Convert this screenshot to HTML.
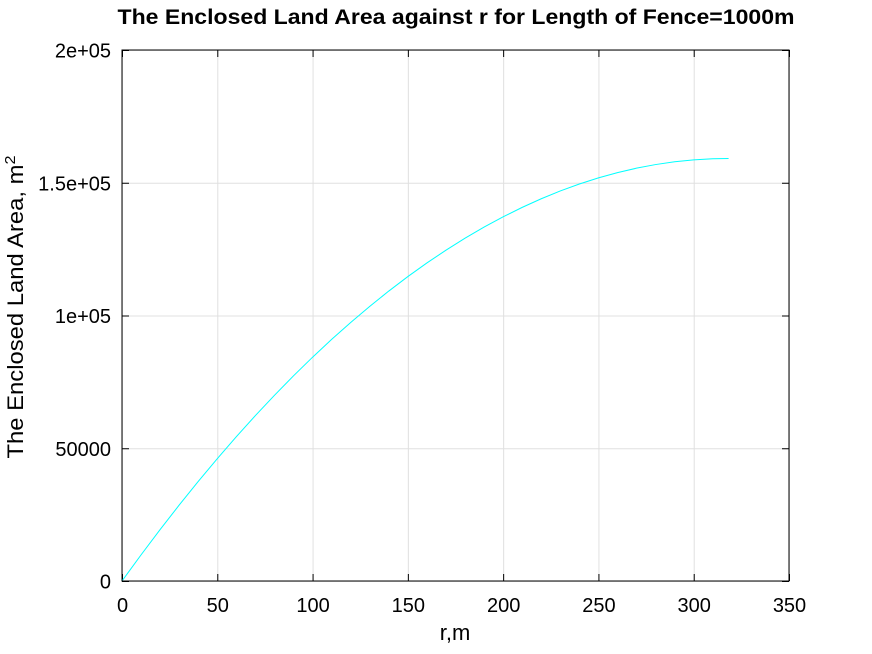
<!DOCTYPE html>
<html><head><meta charset="utf-8"><style>
body{margin:0;background:#fff;}
svg{display:block;font-family:"Liberation Sans",sans-serif;}
</style></head><body>
<svg id="chart" width="872" height="654" xmlns="http://www.w3.org/2000/svg">
<rect width="872" height="654" fill="#fff"/>
<text x="456" y="24" text-anchor="middle" font-size="21" font-weight="bold" textLength="677" lengthAdjust="spacingAndGlyphs">The Enclosed Land Area against r for Length of Fence=1000m</text>
<text x="455" y="640" text-anchor="middle" font-size="22">r,m</text>
<text transform="translate(23,307) rotate(-90)" text-anchor="middle" font-size="22" textLength="303" lengthAdjust="spacingAndGlyphs">The Enclosed Land Area, m<tspan dy="-8" font-size="15">2</tspan></text>
<g id="grid"></g><g id="ticks"></g><g id="series"></g>
<rect x="122" y="50" width="667" height="531" fill="none" stroke="#000" stroke-width="1"/>
</svg>
<script>
const xTicks=[0,50,100,150,200,250,300,350];
const yTicks=[0,50000,100000,150000,200000];
const yTickLabels=["0","50000","1e+05","1.5e+05","2e+05"];
const rValues=[0,10,20,30,40,50,60,70,80,90,100,110,120,130,140,150,160,170,180,190,200,210,220,230,240,250,260,270,280,290,300,310,318.3];
const areaValues=[0,9843,19372,28586,37487,46073,54345,62303,69947,77277,84292,90993,97381,103454,109212,114657,119788,124604,129106,133294,137168,140728,143973,146905,149522,151825,153814,155489,156850,157896,158628,159046,159155];
const X0=122,X1=789,Y0=581,Y1=50;
const sx=v=>X0+(v-0)/(350-0)*(X1-X0);
const sy=v=>Y0-(v-0)/(200000-0)*(Y0-Y1);
const NS="http://www.w3.org/2000/svg";
function mk(t,a,p){const e=document.createElementNS(NS,t);for(const k in a)e.setAttribute(k,a[k]);p.appendChild(e);return e;}
const grid=document.getElementById('grid'),ticks=document.getElementById('ticks'),series=document.getElementById('series');
xTicks.forEach(v=>{const x=sx(v)+0.5;
const g=mk('line',{x1:x,x2:x,y1:Y1,y2:Y0,stroke:'#e0e0e0'},grid);


mk('line',{x1:x,x2:x,y1:Y0,y2:Y0-7,stroke:'#000'},ticks);
mk('line',{x1:x,x2:x,y1:Y1,y2:Y1+7,stroke:'#000'},ticks);
const t=mk('text',{x:x,y:612,'text-anchor':'middle','font-size':'20'},ticks);t.textContent=v;

});
yTicks.forEach((v,i)=>{const y=sy(v)+0.5;
const g=mk('line',{x1:X0,x2:X1,y1:y,y2:y,stroke:'#e0e0e0'},grid);


mk('line',{x1:X0,x2:X0+7,y1:y,y2:y,stroke:'#000'},ticks);
mk('line',{x1:X1,x2:X1-7,y1:y,y2:y,stroke:'#000'},ticks);
const t=mk('text',{x:111,y:y+7,'text-anchor':'end','font-size':'20'},ticks);t.textContent=yTickLabels[i];

});
const pts=rValues.map((r,i)=>sx(r)+','+sy(areaValues[i])).join(' ');
const pl=mk('polyline',{points:pts,fill:'none',stroke:'#00ffff','stroke-width':'1'},series);


</script>
</body></html>
